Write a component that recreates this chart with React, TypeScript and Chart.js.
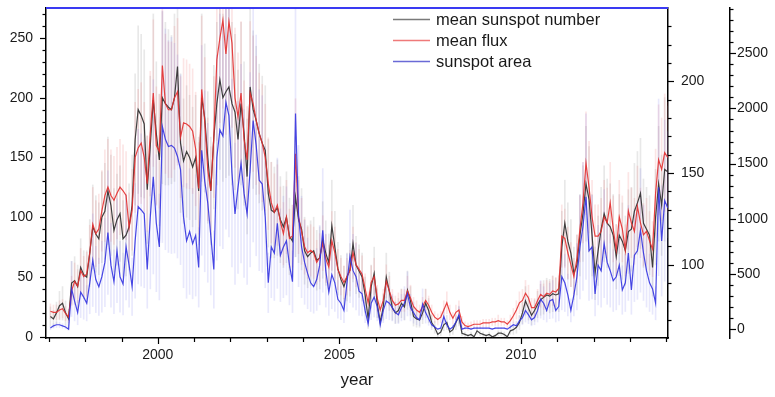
import { useEffect, useRef } from 'react';
import { Chart, registerables } from 'chart.js';

Chart.register(...registerables);

// Monthly means, Jan 1997 .. Jan 2014 (one row per year)
const START_YEAR = 1997;

const SUNSPOT_NUMBER = [
  17, 15, 20, 26, 28, 20, 15, 45, 47, 42, 58, 52,
  50, 70, 92, 86, 82, 100, 105, 122, 110, 89, 98, 103,
  82, 85, 92, 110, 165, 190, 185, 178, 123, 160, 198, 170,
  148, 200, 195, 192, 190, 200, 226, 162, 147, 155, 150, 142,
  150, 122, 200, 183, 150, 122, 167, 195, 215, 200, 205, 209,
  195, 188, 165, 195, 170, 134, 209, 190, 181, 170, 162, 156,
  120, 106, 104, 108, 98, 92, 100, 84, 80, 117, 98, 90,
  72, 67, 70, 72, 64, 66, 81, 70, 62, 93, 75, 57,
  48, 42, 50, 56, 78, 60, 55, 50, 35, 15, 42, 53,
  28, 12, 25, 50, 38, 24, 20, 22, 28, 25, 39, 30,
  17, 15, 14, 20, 28, 22, 12, 8, 2, 4, 10, 12,
  4, 6, 12, 17, 3, 2, 1, 2, 0, 5, 3, 2,
  1, 2, 0, 1, 3, 3, 2, 0, 5, 6, 8, 12,
  20, 30, 24, 18, 22, 27, 31, 33, 35, 34, 36, 35,
  36, 75, 95, 80, 70, 53, 60, 85, 103, 128, 115, 85,
  53, 72, 90, 103, 95, 92, 85, 67, 85, 80, 72, 88,
  90, 105, 112, 120, 95, 90, 85, 58, 100, 128, 110, 140, 138,
];

const SUNSPOT_NUMBER_SD = [
  8, 7, 9, 12, 14, 10, 8, 18, 20, 18, 24, 20,
  22, 28, 35, 32, 30, 38, 40, 45, 42, 35, 38, 40,
  32, 34, 36, 42, 55, 70, 68, 62, 45, 58, 72, 60,
  55, 72, 68, 65, 62, 70, 80, 58, 52, 55, 52, 50,
  52, 45, 70, 62, 55, 45, 60, 68, 75, 70, 72, 74,
  68, 65, 58, 68, 60, 48, 72, 66, 62, 58, 56, 54,
  45, 40, 38, 40, 36, 34, 38, 32, 30, 50, 36, 34,
  28, 26, 27, 28, 25, 26, 32, 27, 24, 38, 30, 22,
  20, 17, 20, 22, 32, 24, 22, 20, 15, 8, 18, 22,
  12, 6, 11, 20, 16, 10, 9, 10, 12, 11, 16, 12,
  8, 7, 6, 9, 12, 10, 6, 5, 2, 3, 5, 6,
  3, 4, 6, 8, 2, 2, 1, 2, 0, 3, 2, 2,
  1, 2, 0, 1, 2, 2, 2, 0, 3, 4, 5, 6,
  9, 12, 10, 8, 9, 11, 13, 14, 14, 14, 15, 14,
  15, 30, 36, 32, 28, 22, 25, 34, 40, 48, 44, 34,
  22, 29, 35, 40, 37, 36, 34, 27, 34, 32, 29, 35,
  35, 40, 43, 46, 37, 35, 33, 24, 40, 48, 42, 60, 55,
];

const MEAN_FLUX = [
  74.6, 74, 74, 75.3, 76, 73.4, 71.4, 85.7, 90.9, 88.3, 96.8, 93.5,
  94.8, 106.5, 122.1, 116.9, 119.5, 129.3, 137.7, 142.3, 137.7, 135.1, 139, 142.3,
  140.3, 137.7, 120.2, 129.9, 158.5, 163.7, 166.3, 158.5, 144.2, 171.5, 193.6, 165,
  161.8, 208.6, 187.8, 184.5, 184.5, 191, 194.3, 169.6, 177.4, 176.7, 175.4, 172.8,
  163.1, 141.6, 195.6, 178, 152, 140.3, 169.6, 211.8, 223.5, 233.3, 215, 232.6,
  220.9, 191, 180.6, 193.6, 168.3, 157.2, 193.6, 187.8, 178.7, 171.5, 166.3, 158.5,
  144.2, 133.8, 128.6, 132.5, 123.4, 116.9, 126, 114.3, 115.6, 160.5, 126, 118.2,
  109.8, 106.5, 107.8, 106.5, 101.3, 103.9, 111.7, 103.3, 98.7, 113, 106.5, 97.4,
  93.5, 90.3, 93.5, 96.8, 106.5, 100, 97.4, 94.8, 87, 79.2, 90.3, 93.5,
  81.8, 75.3, 80.5, 90.9, 85.7, 80.5, 77.9, 78.6, 80.5, 80.5, 85.7, 81.8,
  77.2, 75.3, 74, 77.2, 80.5, 77.9, 74, 71.4, 70.1, 71.4, 75.3, 79.2,
  74, 70.8, 74, 75.3, 68.8, 66.8, 66.2, 66.8, 67.5, 67.5, 67.5, 68.2,
  68.2, 68.2, 68.8, 68.8, 69.5, 68.8, 68.8, 67.5, 69.5, 72.1, 75.3, 79.2,
  80.5, 84.4, 81.8, 76.6, 76.6, 80.5, 83.8, 82.5, 84.4, 83.8, 85.7, 85.1,
  87, 115.6, 114.3, 106.5, 100, 93.5, 103.3, 119.5, 133.8, 155.3, 142.3, 126,
  115.6, 115.6, 118.2, 126, 122.8, 133.8, 119.5, 107.8, 126, 119.5, 107.8, 129.3,
  122.8, 118.2, 131.8, 122.8, 116.3, 118.2, 113, 108.5, 139, 157.2, 152, 161.1, 158.5,
];

const MEAN_FLUX_SD = [
  4, 4, 4, 5, 5, 4, 3, 8, 10, 9, 12, 11,
  12, 15, 20, 18, 19, 22, 25, 26, 25, 24, 25, 26,
  25, 24, 19, 22, 30, 32, 33, 30, 26, 34, 40, 32,
  31, 44, 38, 37, 37, 39, 40, 33, 35, 35, 34, 34,
  31, 25, 40, 35, 28, 24, 33, 44, 46, 48, 44, 48,
  46, 38, 35, 39, 32, 29, 39, 37, 35, 33, 32, 29,
  25, 22, 21, 22, 19, 17, 20, 16, 17, 30, 20, 18,
  15, 14, 14, 14, 12, 13, 15, 13, 12, 16, 14, 11,
  10, 9, 10, 11, 14, 12, 11, 10, 8, 6, 9, 10,
  7, 5, 6, 9, 8, 6, 5, 6, 6, 6, 8, 7,
  5, 5, 4, 5, 6, 5, 4, 3, 3, 3, 5, 6,
  4, 3, 4, 5, 3, 2, 2, 2, 2, 2, 2, 2,
  2, 2, 2, 2, 3, 2, 2, 2, 3, 4, 5, 6,
  6, 7, 7, 5, 5, 6, 7, 7, 7, 7, 8, 8,
  8, 17, 16, 14, 12, 10, 13, 18, 22, 28, 25, 20,
  17, 17, 18, 20, 19, 22, 18, 14, 20, 18, 14, 21,
  19, 18, 22, 19, 17, 18, 16, 15, 24, 30, 28, 32, 30,
];

const SUNSPOT_AREA = [
  10, 30, 40, 40, 30, 20, 0, 365, 255, 150, 335, 290,
  235, 420, 625, 450, 385, 475, 605, 875, 580, 430, 710, 475,
  410, 745, 580, 385, 800, 1110, 1080, 1045, 540, 1015, 1380, 960,
  745, 1835, 1720, 1655, 1665, 1640, 1565, 1445, 1015, 800, 885, 775,
  850, 560, 1620, 1340, 1145, 850, 540, 1555, 1805, 1750, 2055, 1935,
  1415, 1045, 1285, 1500, 1230, 1045, 1445, 1890, 1665, 1350, 1315, 1015,
  420, 745, 690, 960, 670, 745, 800, 580, 430, 1955, 1025, 745,
  605, 505, 420, 385, 450, 580, 895, 530, 335, 495, 420, 270,
  235, 170, 420, 660, 530, 475, 345, 320, 170, 50, 235, 290,
  205, 40, 170, 255, 235, 195, 150, 130, 195, 235, 320, 195,
  150, 105, 85, 225, 150, 95, 40, 20, 0, 10, 115, 40,
  0, 20, 65, 130, 0, 10, 10, 0, 10, 10, 10, 10,
  10, 10, 0, 10, 10, 10, 10, 0, 20, 40, 30, 75,
  105, 170, 130, 85, 105, 170, 270, 235, 170, 255, 270, 170,
  205, 475, 420, 310, 170, 310, 475, 745, 930, 1200, 710, 745,
  320, 580, 530, 775, 605, 530, 440, 475, 580, 355, 420, 690,
  355, 670, 710, 895, 690, 530, 420, 365, 235, 1285, 800, 1165, 1100,
];

const SUNSPOT_AREA_SD = [
  15, 20, 25, 25, 20, 18, 10, 250, 180, 110, 230, 200,
  160, 280, 420, 300, 260, 320, 400, 560, 380, 290, 470, 320,
  280, 480, 380, 260, 520, 700, 690, 670, 350, 650, 880, 620,
  480, 1050, 1000, 960, 980, 950, 920, 860, 640, 520, 570, 500,
  550, 360, 950, 820, 720, 540, 350, 930, 1050, 1020, 1150, 1100,
  850, 640, 780, 900, 760, 640, 880, 1100, 1000, 820, 800, 640,
  270, 460, 430, 590, 420, 460, 490, 360, 280, 1300, 640, 460,
  380, 320, 260, 240, 280, 360, 560, 330, 210, 310, 260, 170,
  150, 110, 260, 420, 330, 300, 220, 200, 110, 30, 150, 180,
  130, 25, 110, 160, 150, 120, 95, 80, 120, 150, 200, 120,
  95, 65, 55, 140, 95, 60, 25, 15, 5, 8, 70, 25,
  5, 15, 40, 80, 5, 8, 8, 5, 8, 8, 8, 8,
  8, 8, 5, 8, 8, 8, 8, 5, 15, 25, 20, 45,
  65, 105, 80, 55, 65, 105, 170, 150, 105, 160, 170, 105,
  130, 300, 260, 190, 105, 190, 300, 470, 580, 750, 450, 470,
  200, 360, 330, 490, 380, 330, 280, 300, 360, 220, 260, 430,
  220, 420, 440, 560, 430, 330, 260, 230, 150, 800, 500, 730, 690,
];

// labelled tick values of each axis
const YEAR_TICKS = [2000, 2005, 2010];
const NUMBER_TICKS = [0, 50, 100, 150, 200, 250];
const FLUX_TICKS = [100, 150, 200];
const AREA_TICKS = [0, 500, 1000, 1500, 2000, 2500];

const SERIES_LABELS = ['mean sunspot number', 'mean flux', 'sunspot area'];
const LINE_COLORS = ['rgba(45,45,45,0.9)', 'rgba(228,48,48,0.9)', 'rgba(52,52,225,0.9)'];
const BAR_COLORS = ['rgba(120,120,120,0.17)', 'rgba(240,100,100,0.17)', 'rgba(110,110,235,0.16)'];
const LEGEND_COLORS = ['#7a7a7a', '#ef7a7a', '#6a6ad6'];

const FONT = '"Liberation Sans", Arial, Helvetica, sans-serif';

const monthYear = (i: number) => START_YEAR + (i + 0.5) / 12;

const lineSet = (label: string, values: number[], axis: string, color: string, order: number) => ({
  type: 'line' as const,
  label,
  data: values.map((v, i) => ({ x: monthYear(i), y: v })),
  yAxisID: axis,
  borderColor: color,
  backgroundColor: color,
  borderWidth: 1.2,
  pointRadius: 0,
  tension: 0,
  fill: false,
  order,
});

const spreadSet = (values: number[], sd: number[], axis: string, color: string, order: number) => ({
  type: 'bar' as const,
  label: '',
  data: values.map((v, i) => ({ x: monthYear(i), y: [v - sd[i], v + sd[i]] })),
  yAxisID: axis,
  backgroundColor: color,
  borderWidth: 0,
  barThickness: 1,
  grouped: false,
  order,
});

const fixedTicks = (values: number[]) => (s: any) => {
  s.ticks = values.map((value) => ({ value }));
};

// outward tick marks (major + minor), top frame line and the legend block
const decorations = {
  id: 'decorations',
  afterDraw(chart: any) {
    const { ctx, chartArea } = chart;
    ctx.save();
    ctx.strokeStyle = '#000';
    ctx.lineWidth = 1.2;

    const vTicks = (id: string, from: number, to: number, step: number, major: number, dir: number) => {
      const s = chart.scales[id];
      const x0 = dir < 0 ? s.right : s.left;
      for (let v = from; v <= to + 1e-6; v += step) {
        const y = Math.round(s.getPixelForValue(v)) + 0.5;
        const isMajor = Math.abs(v / major - Math.round(v / major)) < 1e-6;
        ctx.beginPath();
        ctx.moveTo(x0, y);
        ctx.lineTo(x0 + dir * (isMajor ? 6 : 3.5), y);
        ctx.stroke();
      }
    };
    vTicks('y', 0, 270, 10, 50, -1);
    vTicks('flux', 70, 230, 10, 50, 1);
    vTicks('area', 0, 2900, 100, 500, 1);

    const xs = chart.scales.x;
    for (let yr = 1997; yr <= 2014; yr++) {
      const x = Math.round(xs.getPixelForValue(yr)) + 0.5;
      const isMajor = yr % 5 === 0;
      ctx.beginPath();
      ctx.moveTo(x, xs.top);
      ctx.lineTo(x, xs.top + (isMajor ? 6 : 4));
      ctx.stroke();
    }

    ctx.strokeStyle = '#3a3af2';
    ctx.lineWidth = 2;
    ctx.beginPath();
    ctx.moveTo(chartArea.left, chartArea.top);
    ctx.lineTo(chartArea.right, chartArea.top);
    ctx.stroke();

    ctx.font = `16.5px ${FONT}`;
    ctx.textBaseline = 'middle';
    ctx.textAlign = 'left';
    SERIES_LABELS.forEach((label, i) => {
      const y = 19.5 + i * 21;
      ctx.strokeStyle = LEGEND_COLORS[i];
      ctx.lineWidth = 1.3;
      ctx.beginPath();
      ctx.moveTo(393, y);
      ctx.lineTo(430, y);
      ctx.stroke();
      ctx.fillStyle = '#1a1a1a';
      ctx.fillText(label, 436, y + 0.5);
    });
    ctx.restore();
  },
};

const tickFont = { family: FONT, size: 14 };
const tickStyle = { color: '#1a1a1a', font: tickFont, autoSkip: false, maxRotation: 0, callback: (v: any) => String(v) };
const axisBorder = { display: true, color: '#000', width: 1.5 };
const noGrid = { display: false, drawTicks: false };

export default function App() {
  const canvasRef = useRef<HTMLCanvasElement | null>(null);

  useEffect(() => {
    const canvas = canvasRef.current;
    if (!canvas) return;

    const chart = new Chart(canvas, {
      type: 'line',
      data: {
        datasets: [
          spreadSet(SUNSPOT_NUMBER, SUNSPOT_NUMBER_SD, 'y', BAR_COLORS[0], 12),
          spreadSet(MEAN_FLUX, MEAN_FLUX_SD, 'flux', BAR_COLORS[1], 11),
          spreadSet(SUNSPOT_AREA, SUNSPOT_AREA_SD, 'area', BAR_COLORS[2], 10),
          lineSet(SERIES_LABELS[0], SUNSPOT_NUMBER, 'y', LINE_COLORS[0], 3),
          lineSet(SERIES_LABELS[1], MEAN_FLUX, 'flux', LINE_COLORS[1], 2),
          lineSet(SERIES_LABELS[2], SUNSPOT_AREA, 'area', LINE_COLORS[2], 1),
        ] as any,
      },
      options: {
        animation: false,
        responsive: true,
        maintainAspectRatio: false,
        devicePixelRatio: 1,
        events: [],
        layout: { padding: { top: 8, left: 0, right: 0, bottom: 0 } },
        plugins: { legend: { display: false }, tooltip: { enabled: false } },
        scales: {
          x: {
            type: 'linear',
            min: 1996.92,
            max: 2014.05,
            offset: false,
            grid: noGrid,
            border: axisBorder,
            ticks: { ...tickStyle, padding: 9 },
            afterBuildTicks: fixedTicks(YEAR_TICKS),
            title: {
              display: true,
              text: 'year',
              color: '#1a1a1a',
              font: { family: FONT, size: 17 },
              padding: { top: 0, bottom: 6 },
            },
            afterFit: (s: any) => {
              s.height = 59;
              s.paddingLeft = 0;
              s.paddingRight = 0;
            },
          },
          y: {
            type: 'linear',
            position: 'left',
            min: -1,
            max: 275,
            grid: noGrid,
            border: axisBorder,
            ticks: { ...tickStyle, padding: 13 },
            afterBuildTicks: fixedTicks(NUMBER_TICKS),
            afterFit: (s: any) => {
              s.width = 46;
              s.paddingTop = 0;
              s.paddingBottom = 0;
            },
          },
          flux: {
            type: 'linear',
            position: 'right',
            weight: 0,
            min: 60,
            max: 240,
            grid: noGrid,
            border: axisBorder,
            ticks: { ...tickStyle, padding: 13 },
            afterBuildTicks: fixedTicks(FLUX_TICKS),
            afterFit: (s: any) => {
              s.width = 62;
              s.paddingTop = 0;
              s.paddingBottom = 0;
            },
          },
          area: {
            type: 'linear',
            position: 'right',
            weight: 1,
            min: -80,
            max: 2910,
            grid: noGrid,
            border: axisBorder,
            ticks: { ...tickStyle, padding: 7 },
            afterBuildTicks: fixedTicks(AREA_TICKS),
            afterFit: (s: any) => {
              s.width = 45;
              s.paddingTop = 0;
              s.paddingBottom = 0;
            },
          },
        },
      } as any,
      plugins: [decorations],
    });

    return () => chart.destroy();
  }, []);

  return (
    <div style={{ position: 'absolute', left: 0, top: 0, width: 775, height: 397, background: '#fff' }}>
      <canvas ref={canvasRef} />
    </div>
  );
}
